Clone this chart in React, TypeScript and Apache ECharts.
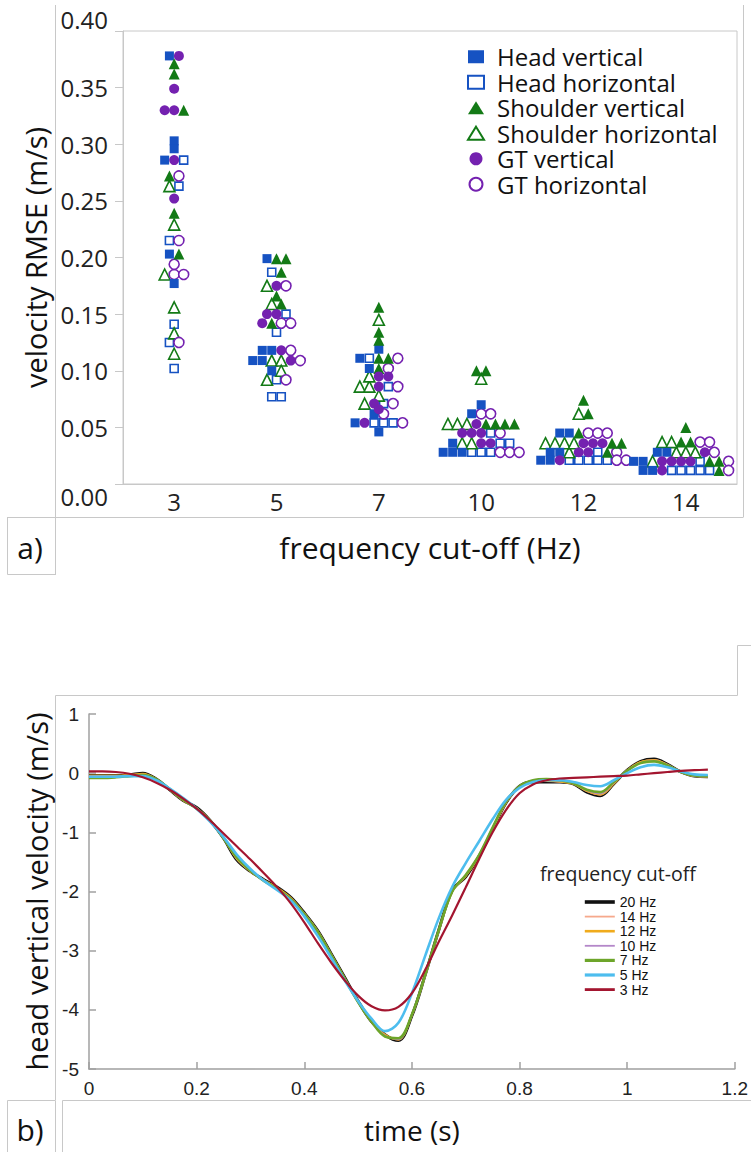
import React, { useEffect, useRef } from "react";
import * as echarts from "echarts";

// ---------- panel a) data ----------
const cutoffCategories = ["3", "5", "7", "10", "12", "14"];

const headVertical = [
  [0.378, 0.303, 0.296, 0.286, 0.203, 0.177],
  [0.199, 0.118, 0.118, 0.109, 0.109, 0.1],
  [0.119, 0.111, 0.102, 0.062, 0.054, 0.046],
  [0.07, 0.062, 0.036, 0.028, 0.028, 0.028],
  [0.045, 0.045, 0.028, 0.028, 0.021, 0.021],
  [0.028, 0.028, 0.02, 0.02, 0.012, 0.012],
];
const headHorizontal = [
  [0.286, 0.263, 0.215, 0.141, 0.125, 0.102],
  [0.187, 0.15, 0.134, 0.092, 0.077, 0.077],
  [0.111, 0.086, 0.071, 0.054, 0.054, 0.054],
  [0.045, 0.036, 0.036, 0.028, 0.028, 0.028],
  [0.028, 0.021, 0.021, 0.021, 0.021, 0.021],
  [0.02, 0.012, 0.012, 0.012, 0.012, 0.012],
];
const shoulderVertical = [
  [0.371, 0.362, 0.33, 0.272, 0.239, 0.203],
  [0.199, 0.199, 0.187, 0.166, 0.159, 0.142],
  [0.156, 0.134, 0.127, 0.111, 0.111, 0.102],
  [0.1, 0.1, 0.053, 0.053, 0.053, 0.053],
  [0.074, 0.062, 0.045, 0.036, 0.036, 0.028],
  [0.05, 0.037, 0.037, 0.02, 0.02, 0.012],
];
const shoulderHorizontal = [
  [0.263, 0.229, 0.185, 0.156, 0.133, 0.115],
  [0.175, 0.159, 0.109, 0.109, 0.1, 0.092],
  [0.145, 0.095, 0.086, 0.086, 0.078, 0.071],
  [0.093, 0.053, 0.053, 0.053, 0.036, 0.036],
  [0.062, 0.036, 0.036, 0.036, 0.036, 0.028],
  [0.037, 0.037, 0.028, 0.028, 0.028, 0.02],
];
const gtVertical = [
  [0.378, 0.349, 0.33, 0.33, 0.286, 0.252],
  [0.175, 0.15, 0.15, 0.142, 0.118, 0.109],
  [0.095, 0.095, 0.086, 0.071, 0.066, 0.054],
  [0.053, 0.045, 0.045, 0.045, 0.036, 0.036],
  [0.036, 0.036, 0.036, 0.028, 0.028, 0.021],
  [0.028, 0.02, 0.02, 0.02, 0.02, 0.012],
];
const gtHorizontal = [
  [0.272, 0.215, 0.194, 0.185, 0.185, 0.125],
  [0.175, 0.142, 0.142, 0.118, 0.109, 0.092],
  [0.111, 0.102, 0.086, 0.071, 0.062, 0.054],
  [0.062, 0.062, 0.045, 0.028, 0.028, 0.028],
  [0.045, 0.045, 0.045, 0.028, 0.021, 0.021],
  [0.037, 0.037, 0.028, 0.02, 0.02, 0.012],
];

// ---------- panel b) data ----------
const timeSeconds = [
  0, 0.025, 0.05, 0.075, 0.1, 0.125, 0.15, 0.175, 0.2, 0.225, 0.25, 0.275, 0.3, 0.325, 0.35, 0.375,
  0.4, 0.425, 0.45, 0.475, 0.5, 0.525, 0.55, 0.575, 0.6, 0.625, 0.65, 0.675, 0.7, 0.725, 0.75, 0.775,
  0.8, 0.825, 0.85, 0.875, 0.9, 0.925, 0.95, 0.975, 1.0, 1.025, 1.05, 1.075, 1.1, 1.125, 1.15,
];
const vel20Hz = [
  -0.04, -0.04, -0.04, -0.03, 0.0, -0.1, -0.28, -0.46, -0.58, -0.8, -1.1, -1.47, -1.66, -1.8, -1.93, -2.1,
  -2.36, -2.66, -3.05, -3.45, -3.85, -4.2, -4.42, -4.52, -4.1, -3.4, -2.65, -1.98, -1.75, -1.4, -0.95, -0.5,
  -0.22, -0.15, -0.15, -0.15, -0.18, -0.32, -0.38, -0.18, 0.05, 0.2, 0.24, 0.15, 0.02, -0.05, -0.06,
];
const vel14Hz = [
  -0.04, -0.04, -0.04, -0.03, -0.01, -0.1, -0.28, -0.46, -0.59, -0.8, -1.1, -1.46, -1.66, -1.8, -1.94, -2.11,
  -2.37, -2.67, -3.06, -3.46, -3.86, -4.2, -4.42, -4.51, -4.1, -3.41, -2.66, -1.99, -1.74, -1.4, -0.95, -0.5,
  -0.22, -0.14, -0.14, -0.15, -0.18, -0.31, -0.37, -0.18, 0.05, 0.19, 0.23, 0.15, 0.02, -0.05, -0.06,
];
const vel12Hz = [
  -0.04, -0.04, -0.04, -0.03, -0.01, -0.1, -0.28, -0.46, -0.59, -0.8, -1.1, -1.45, -1.66, -1.81, -1.94, -2.11,
  -2.37, -2.67, -3.06, -3.46, -3.86, -4.2, -4.42, -4.5, -4.09, -3.41, -2.66, -2.0, -1.74, -1.4, -0.95, -0.5,
  -0.22, -0.14, -0.13, -0.14, -0.18, -0.3, -0.36, -0.18, 0.05, 0.19, 0.22, 0.14, 0.02, -0.05, -0.06,
];
const vel10Hz = [
  -0.05, -0.05, -0.05, -0.04, -0.02, -0.1, -0.28, -0.46, -0.6, -0.8, -1.1, -1.44, -1.66, -1.81, -1.95, -2.12,
  -2.37, -2.67, -3.06, -3.46, -3.86, -4.2, -4.43, -4.5, -4.09, -3.42, -2.66, -2.0, -1.73, -1.39, -0.94, -0.5,
  -0.22, -0.13, -0.12, -0.13, -0.17, -0.29, -0.35, -0.17, 0.05, 0.18, 0.21, 0.14, 0.02, -0.05, -0.06,
];
const vel7Hz = [
  -0.08, -0.08, -0.07, -0.05, -0.03, -0.1, -0.27, -0.45, -0.6, -0.8, -1.1, -1.43, -1.65, -1.82, -1.96, -2.13,
  -2.38, -2.68, -3.07, -3.47, -3.87, -4.2, -4.45, -4.48, -4.08, -3.4, -2.65, -2.0, -1.72, -1.38, -0.92, -0.48,
  -0.22, -0.12, -0.1, -0.12, -0.17, -0.28, -0.32, -0.15, 0.04, 0.17, 0.2, 0.13, 0.02, -0.04, -0.05,
];
const vel5Hz = [
  -0.06, -0.06, -0.06, -0.05, -0.05, -0.12, -0.26, -0.42, -0.6, -0.82, -1.08, -1.38, -1.62, -1.82, -1.98, -2.15,
  -2.42, -2.75, -3.12, -3.5, -3.85, -4.15, -4.36, -4.22, -3.72, -3.08, -2.45, -1.92, -1.52, -1.15, -0.78, -0.45,
  -0.25, -0.15, -0.12, -0.12, -0.15, -0.2, -0.22, -0.12, 0.0, 0.1, 0.14, 0.1, 0.03, -0.02, -0.03,
];
const vel3Hz = [
  0.03, 0.03, 0.02, -0.01, -0.07, -0.16, -0.28, -0.43, -0.6, -0.8, -1.02, -1.24, -1.46, -1.69, -1.93, -2.2,
  -2.52, -2.87, -3.2, -3.5, -3.76, -3.94, -4.01, -3.95, -3.72, -3.32, -2.85, -2.4, -1.93, -1.45, -1.0, -0.62,
  -0.34, -0.19, -0.12, -0.09, -0.08, -0.07, -0.06, -0.05, -0.04, -0.02, 0.0, 0.02, 0.04, 0.05, 0.06,
];

const BLUE = "#1652c2";
const GREEN = "#137a16";
const PURPLE = "#7421b0";

const scatterDefs = [
  { name: "Head vertical", values: headVertical, symbol: "rect", size: 9, color: BLUE, open: false, order: 0 },
  { name: "Head horizontal", values: headHorizontal, symbol: "rect", size: 8, color: BLUE, open: true, order: 3 },
  { name: "Shoulder vertical", values: shoulderVertical, symbol: "triangle", size: 11, color: GREEN, open: false, order: 4 },
  { name: "Shoulder horizontal", values: shoulderHorizontal, symbol: "triangle", size: 11, color: GREEN, open: true, order: 1 },
  { name: "GT vertical", values: gtVertical, symbol: "circle", size: 10, color: PURPLE, open: false, order: 2 },
  { name: "GT horizontal", values: gtHorizontal, symbol: "circle", size: 10, color: PURPLE, open: true, order: 5 },
];

const lineDefs = [
  { name: "20 Hz", values: vel20Hz, color: "#111111", width: 3 },
  { name: "14 Hz", values: vel14Hz, color: "#f6a98c", width: 1.2 },
  { name: "12 Hz", values: vel12Hz, color: "#f0ab1c", width: 2 },
  { name: "10 Hz", values: vel10Hz, color: "#b487c9", width: 1.2 },
  { name: "7 Hz", values: vel7Hz, color: "#6da52a", width: 2.6 },
  { name: "5 Hz", values: vel5Hz, color: "#4dbdee", width: 2.6 },
  { name: "3 Hz", values: vel3Hz, color: "#a3152f", width: 2.2 },
];

// grid geometry for panel a (used by the swarm layout to avoid overlaps)
const GRID_A = { left: 123, top: 31, width: 614, height: 453 };
const Y_MAX_A = 0.4;
const CELL_PX = 9.5;

function swarmLayout(): number[][][] {
  const yPxPerUnit = GRID_A.height / Y_MAX_A;
  const xUnitsPerPx = cutoffCategories.length / GRID_A.width;
  const out: number[][][] = scatterDefs.map(() => []);
  cutoffCategories.forEach((_, ci) => {
    const rows = new Map<number, { si: number; v: number }[]>();
    scatterDefs.forEach((def, si) => {
      def.values[ci].forEach((v) => {
        const key = Math.round((v * yPxPerUnit) / 2);
        if (!rows.has(key)) rows.set(key, []);
        rows.get(key)!.push({ si, v });
      });
    });
    rows.forEach((row) => {
      row.sort((a, b) => scatterDefs[a.si].order - scatterDefs[b.si].order);
      row.forEach((p, i) => {
        const off = (i - (row.length - 1) / 2) * CELL_PX * xUnitsPerPx;
        out[p.si].push([ci + off, p.v]);
      });
    });
  });
  return out;
}

const FRAME = "#c8c8c8";

function buildOption() {
  const swarm = swarmLayout();
  const scatterSeries = scatterDefs.map((def, si) => ({
    name: def.name,
    type: "scatter",
    xAxisIndex: 1,
    yAxisIndex: 0,
    symbol: def.symbol,
    symbolSize: def.size,
    data: swarm[si],
    itemStyle: def.open
      ? { color: "#ffffff", borderColor: def.color, borderWidth: 1.6, opacity: 1 }
      : { color: def.color, opacity: 1 },
    z: def.open ? 3 : 4,
  }));
  const lineSeries = lineDefs.map((def) => ({
    name: def.name,
    type: "line",
    xAxisIndex: 2,
    yAxisIndex: 1,
    symbol: "none",
    showSymbol: false,
    smooth: 0.35,
    data: timeSeconds.map((t, i) => [t, def.values[i]]),
    lineStyle: { color: def.color, width: def.width },
    itemStyle: { color: def.color },
  }));

  const line = (x1: number, y1: number, x2: number, y2: number) => ({
    type: "line",
    shape: { x1, y1, x2, y2 },
    style: { stroke: FRAME, lineWidth: 1 },
    silent: true,
  });

  return {
    animation: false,
    backgroundColor: "#ffffff",
    textStyle: { fontFamily: "Open Sans" },
    grid: [
      { ...GRID_A, show: true, borderColor: FRAME, borderWidth: 1, backgroundColor: "transparent" },
      { left: 89, top: 714, width: 650, height: 355 },
    ],
    legend: [
      {
        data: scatterDefs.map((d) => d.name),
        orient: "vertical",
        left: 462,
        top: 39,
        itemWidth: 16,
        itemHeight: 13,
        itemGap: 0,
        textStyle: { fontSize: 24, lineHeight: 25.5, color: "#111", fontFamily: "Open Sans", padding: [0, 0, 0, 8] },
        selectedMode: false,
      },
      {
        data: lineDefs.map((d) => ({ name: d.name, lineStyle: { color: d.color, width: d.width + 0.6 } })),
        orient: "vertical",
        left: 578,
        top: 890,
        itemWidth: 30,
        itemHeight: 10,
        itemGap: 0.6,
        itemStyle: { opacity: 0 },
        textStyle: { fontSize: 14, lineHeight: 14, color: "#111", fontFamily: "Liberation Sans" },
        selectedMode: false,
      },
    ],
    xAxis: [
      {
        type: "category",
        gridIndex: 0,
        data: cutoffCategories,
        boundaryGap: true,
        axisTick: { show: false },
        axisLine: { lineStyle: { color: FRAME } },
        axisLabel: { fontSize: 24, color: "#222", margin: 5, fontFamily: "Open Sans" },
        splitLine: { show: false },
        name: "frequency cut-off (Hz)",
        nameLocation: "middle",
        nameGap: 48,
        nameTextStyle: { fontSize: 30, color: "#111", fontFamily: "Open Sans" },
      },
      { type: "value", gridIndex: 0, min: -0.5, max: 5.5, show: false },
      {
        type: "value",
        gridIndex: 1,
        min: 0,
        max: 1.2,
        interval: 0.2,
        axisLine: { onZero: false, lineStyle: { color: "#a0a0a0", width: 1.5 } },
        axisTick: { inside: true, length: 7, lineStyle: { color: "#a0a0a0", width: 1.5 } },
        axisLabel: { fontSize: 19, color: "#222", margin: 10, fontFamily: "Liberation Sans" },
        splitLine: { show: false },
        name: "time (s)",
        nameLocation: "middle",
        nameGap: 47,
        nameTextStyle: { fontSize: 28, color: "#111", fontFamily: "Open Sans" },
      },
    ],
    yAxis: [
      {
        type: "value",
        gridIndex: 0,
        min: 0,
        max: 0.4,
        interval: 0.05,
        axisLine: { show: true, onZero: false, lineStyle: { color: FRAME } },
        axisTick: { show: true, inside: false, length: 8, lineStyle: { color: FRAME } },
        axisLabel: {
          fontSize: 24,
          color: "#222",
          margin: 15,
          fontFamily: "Open Sans",
          formatter: (v: number) => v.toFixed(2),
          verticalAlignMinLabel: "top",
          verticalAlignMaxLabel: "bottom",
        },
        splitLine: { show: false },
        name: "velocity RMSE (m/s)",
        nameLocation: "middle",
        nameGap: 72,
        nameTextStyle: { fontSize: 29, color: "#111", fontFamily: "Open Sans" },
      },
      {
        type: "value",
        gridIndex: 1,
        min: -5,
        max: 1,
        interval: 1,
        axisLine: { show: true, onZero: false, lineStyle: { color: "#a0a0a0", width: 1.5 } },
        axisTick: { show: true, inside: true, length: 7, lineStyle: { color: "#a0a0a0", width: 1.5 } },
        axisLabel: { fontSize: 19, color: "#222", margin: 10, fontFamily: "Liberation Sans" },
        splitLine: { show: false },
        name: "head vertical velocity (m/s)",
        nameLocation: "middle",
        nameGap: 37,
        nameTextStyle: { fontSize: 29, color: "#111", fontFamily: "Open Sans" },
      },
    ],
    graphic: [
      // panel a frames
      line(55.5, 5, 55.5, 575),
      line(743.5, 5, 743.5, 517),
      line(7, 517.5, 743.5, 517.5),
      { type: "rect", shape: { x: 7.5, y: 517.5, width: 48, height: 57 }, style: { fill: "none", stroke: FRAME, lineWidth: 1 }, silent: true },
      { type: "text", x: 30, y: 547, style: { text: "a)", fontSize: 30, fontFamily: "Open Sans", fill: "#111", align: "center", verticalAlign: "middle" }, silent: true },
      // panel b frames
      line(55.5, 695.5, 737.5, 695.5),
      line(737.5, 645.5, 737.5, 695.5),
      line(737.5, 645.5, 751, 645.5),
      line(55.5, 695.5, 55.5, 1100),
      { type: "rect", shape: { x: 7.5, y: 1100.5, width: 48, height: 60 }, style: { fill: "none", stroke: FRAME, lineWidth: 1 }, silent: true },
      line(62.5, 1100.5, 751, 1100.5),
      line(62.5, 1100.5, 62.5, 1152),
      { type: "text", x: 30, y: 1129, style: { text: "b)", fontSize: 30, fontFamily: "Open Sans", fill: "#111", align: "center", verticalAlign: "middle" }, silent: true },
      { type: "text", x: 540, y: 873, style: { text: "frequency cut-off", fontSize: 19.5, fontFamily: "Open Sans", fill: "#222", align: "left", verticalAlign: "middle" }, silent: true },
    ],
    series: [...scatterSeries, ...lineSeries],
  };
}

export default function App() {
  const ref = useRef<HTMLDivElement>(null);
  useEffect(() => {
    document.body.style.margin = "0";
    if (!ref.current) return;
    const chart = echarts.init(ref.current, undefined, { renderer: "svg" });
    chart.setOption(buildOption() as any);
    return () => chart.dispose();
  }, []);
  return <div ref={ref} style={{ width: 751, height: 1152 }} />;
}
